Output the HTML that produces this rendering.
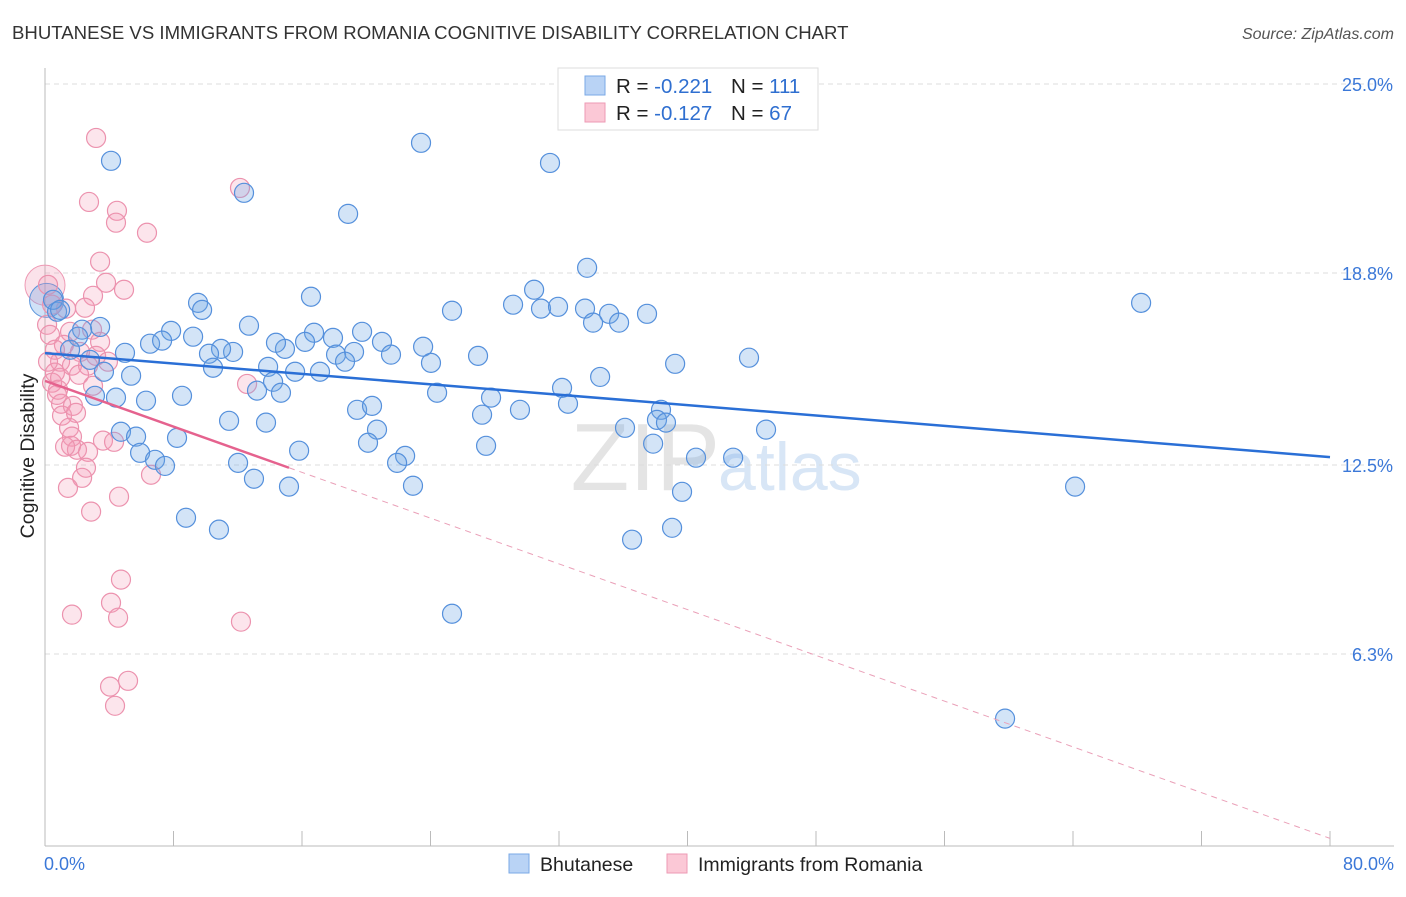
<!DOCTYPE html>
<html><head><meta charset="utf-8"><style>
body{margin:0;background:#fff;font-family:"Liberation Sans",sans-serif;}
svg text{font-family:"Liberation Sans",sans-serif;}
</style></head><body>
<svg id="chart" width="1406" height="892">
<text x="12" y="39" font-size="18.6" fill="#333">BHUTANESE VS IMMIGRANTS FROM ROMANIA COGNITIVE DISABILITY CORRELATION CHART</text>
<text x="1394" y="39" font-size="16" fill="#555" text-anchor="end" font-style="italic">Source: ZipAtlas.com</text>
<text x="720" y="490" font-size="96" fill="#e4e4e4" text-anchor="end" font-family="Liberation Serif">ZIP</text>
<text x="718" y="490" font-size="68" fill="#d8e6f6">atlas</text>
<g id="grid"></g><g id="axes"></g><g id="pts"></g><g id="trend"></g>
<text x="34" y="456" font-size="19.5" fill="#222" text-anchor="middle" transform="rotate(-90 34 456)">Cognitive Disability</text>
<g>
<rect x="558" y="68" width="260" height="62" fill="#fff" stroke="#ddd"/>
<rect x="585" y="76" width="20" height="19" fill="#b9d3f5" stroke="#7aa8e6"/>
<rect x="585" y="103" width="20" height="19" fill="#fbc8d6" stroke="#ee9ab4"/>
<text x="616" y="93" font-size="20.5" fill="#222">R = <tspan fill="#2f6fd0">-0.221</tspan></text>
<text x="731" y="93" font-size="20.5" fill="#222">N = <tspan fill="#2f6fd0">111</tspan></text>
<text x="616" y="120" font-size="20.5" fill="#222">R = <tspan fill="#2f6fd0">-0.127</tspan></text>
<text x="731" y="120" font-size="20.5" fill="#222">N = <tspan fill="#2f6fd0">67</tspan></text>
</g>
<g>
<rect x="509" y="854" width="20" height="19" fill="#b9d3f5" stroke="#7aa8e6"/>
<text x="540" y="871" font-size="19.5" fill="#222">Bhutanese</text>
<rect x="667" y="854" width="20" height="19" fill="#fbc8d6" stroke="#ee9ab4"/>
<text x="698" y="871" font-size="19.5" fill="#222">Immigrants from Romania</text>
</g>
</svg>
<script>
const yTicks=[25,18.8,12.5,6.3];
const yTickLabels=["25.0%","18.8%","12.5%","6.3%"];
const xTicks=[0,8,16,24,32,40,48,56,64,72,80];
const xEndLabels=["0.0%","80.0%"];
const blueX=[4.11,23.41,31.44,12.39,18.87,33.75,30.45,68.24,9.53,9.78,16.56,25.34,29.14,30.88,31.94,33.62,35.12,34.12,35.74,37.48,12.70,7.85,3.43,2.31,0.75,0.50,0.94,6.54,7.29,9.22,16.75,17.93,16.19,19.74,20.98,23.54,19.24,18.12,18.68,21.54,14.94,14.38,11.71,10.96,10.21,10.46,4.98,2.80,2.06,13.89,15.57,17.12,24.03,26.96,39.23,43.83,5.36,3.67,14.20,13.20,14.69,8.53,3.11,4.42,6.29,24.41,27.77,32.19,34.56,32.56,29.57,19.43,20.36,27.21,11.46,13.76,38.35,38.10,38.66,36.11,20.67,44.89,4.73,5.67,8.22,15.82,20.11,5.92,6.85,7.47,12.02,22.42,21.92,27.46,37.86,40.53,42.84,13.01,15.19,22.91,39.66,64.13,8.78,10.83,39.04,36.55,25.34,59.77,1.56];
const blueY=[22.48,23.07,22.41,21.43,20.74,18.97,18.25,17.82,17.82,17.59,18.02,17.56,17.76,17.63,17.69,17.63,17.46,17.17,17.17,17.46,17.07,16.90,17.03,16.94,17.53,17.92,17.59,16.48,16.58,16.71,16.84,16.67,16.54,16.87,16.54,16.38,16.21,16.12,15.89,16.12,16.31,16.51,16.21,16.31,16.15,15.69,16.18,15.95,16.71,15.72,15.56,15.56,15.85,16.08,15.82,16.02,15.43,15.56,15.23,14.94,14.87,14.77,14.77,14.71,14.61,14.87,14.71,15.03,15.39,14.51,14.31,14.31,14.44,14.15,13.95,13.89,14.31,13.98,13.89,13.72,13.66,13.66,13.59,13.43,13.39,12.97,13.23,12.90,12.67,12.47,12.57,12.80,12.57,13.13,13.20,12.74,12.74,12.05,11.79,11.82,11.62,11.79,10.77,10.38,10.44,10.05,7.62,4.18,16.28];
const pinkX=[3.18,12.14,2.74,4.48,4.42,6.35,3.43,3.80,4.92,2.99,2.49,0.19,0.44,1.31,0.13,0.31,1.56,2.93,1.18,3.43,2.18,3.18,3.92,0.94,1.68,2.68,0.62,0.44,2.12,2.99,0.81,12.58,1.00,1.06,1.74,1.93,1.50,1.68,1.62,1.99,2.68,1.25,3.61,4.30,2.55,2.31,6.60,1.43,4.61,2.87,4.73,4.11,1.68,4.55,12.20,5.17,4.05,4.36,0.62,0.94,0.19,0.75];
const pinkY=[23.23,21.59,21.13,20.84,20.45,20.12,19.17,18.48,18.25,18.05,17.66,18.41,17.76,17.63,17.10,16.77,16.87,16.94,16.44,16.54,16.21,16.08,15.89,15.89,15.76,15.76,15.53,15.20,15.46,15.10,14.97,15.16,14.51,14.12,14.44,14.21,13.72,13.43,13.13,13.00,12.93,13.10,13.30,13.26,12.41,12.08,12.18,11.75,11.46,10.97,8.74,7.98,7.59,7.49,7.36,5.42,5.23,4.60,16.28,15.36,15.89,14.80];
const blueTrend=[[0,16.17],[80,12.76]];
const pinkTrend=[[0,15.26],[15.19,12.41],[80,0.25]];
const X0=45,X1=1330,Y0=846,Y25=84;
const sx=v=>X0+(X1-X0)*v/80;
const sy=v=>Y0-(Y0-Y25)*v/25;
const NS="http://www.w3.org/2000/svg";
function mk(tag,parent,at){const e=document.createElementNS(NS,tag);for(const k in at)e.setAttribute(k,at[k]);document.getElementById(parent).appendChild(e);return e;}
yTicks.forEach((t,i)=>{
  const l=mk('line','grid',{x1:X0,x2:1394,y1:sy(t),y2:sy(t),stroke:'#ddd','stroke-dasharray':'5,4'});
  
  
  const tx=mk('text','grid',{x:1393,y:sy(t)+7,'font-size':18,fill:'#3b78d8','text-anchor':'end'});
  tx.textContent=yTickLabels[i];
  
  
});
const ya=mk('line','axes',{x1:X0,x2:X0,y1:68,y2:Y0,stroke:'#bbb'});


const xa=mk('line','axes',{x1:X0,x2:1394,y1:Y0,y2:Y0,stroke:'#bbb'});


xTicks.forEach(t=>{
  const l=mk('line','axes',{x1:sx(t),x2:sx(t),y1:Y0-15,y2:Y0,stroke:'#bbb'});
  
  
});
[[0,'start',44],[80,'end',1394]].forEach((d,i)=>{
  const tx=mk('text','axes',{x:d[2],y:870,'font-size':18,fill:'#3b78d8','text-anchor':d[1]});
  tx.textContent=xEndLabels[i];
  
  
});
function dots(xs,ys,fill,stroke,name){
  xs.forEach((x,i)=>{
    const c=mk('circle','pts',{cx:sx(x),cy:sy(ys[i]),r:9.5,fill:fill,stroke:stroke,'stroke-width':1.2});
    
    
  });
}
const bigP=mk('circle','pts',{cx:sx(0),cy:sy(18.4),r:20,fill:'rgba(240,140,170,0.25)',stroke:'#ee9ab4'});


const bigB=mk('circle','pts',{cx:sx(0.1),cy:sy(17.9),r:17,fill:'rgba(100,160,230,0.3)',stroke:'#5b95dc'});


dots(pinkX,pinkY,'rgba(244,150,180,0.25)','#ec92ae','romania-point');
dots(blueX,blueY,'rgba(110,165,230,0.3)','#5590dc','bhutanese-point');
const bl=mk('line','trend',{x1:sx(blueTrend[0][0]),y1:sy(blueTrend[0][1]),x2:sx(blueTrend[1][0]),y2:sy(blueTrend[1][1]),stroke:'#2a6fd6','stroke-width':2.5});


const pl=mk('line','trend',{x1:sx(pinkTrend[0][0]),y1:sy(pinkTrend[0][1]),x2:sx(pinkTrend[1][0]),y2:sy(pinkTrend[1][1]),stroke:'#e5628e','stroke-width':2.5});


const pd=mk('line','trend',{x1:sx(pinkTrend[1][0]),y1:sy(pinkTrend[1][1]),x2:sx(pinkTrend[2][0]),y2:sy(pinkTrend[2][1]),stroke:'#eaa0b8','stroke-width':1,'stroke-dasharray':'6,5'});


</script>
</body></html>
